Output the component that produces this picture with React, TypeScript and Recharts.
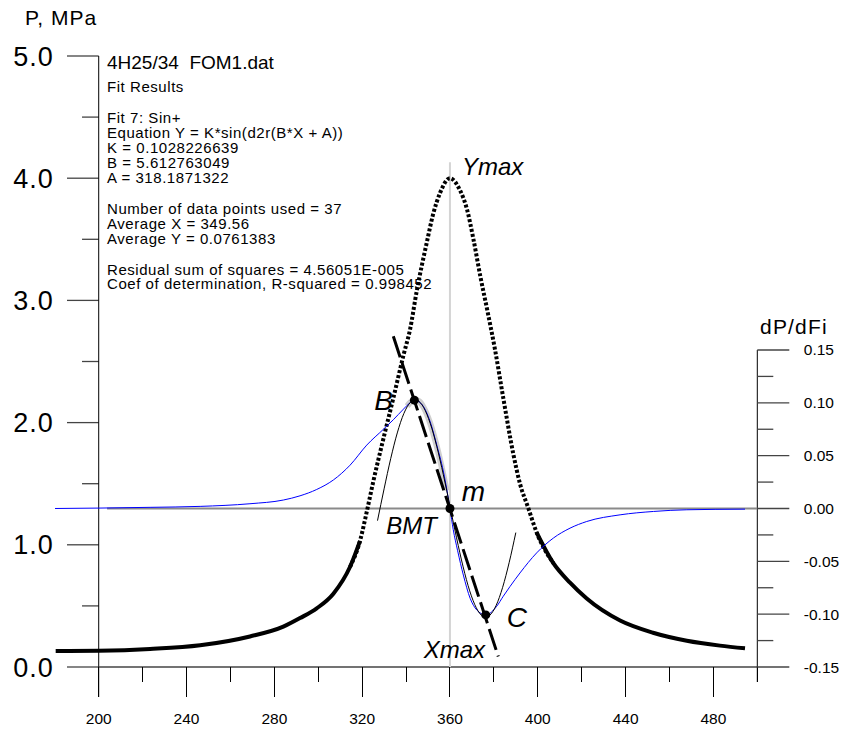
import React from 'react';
import { ComposedChart, Line, XAxis, YAxis, ReferenceLine, ReferenceDot, Customized } from 'recharts';

const FONT = "'Liberation Sans', Arial, Helvetica, sans-serif";

// ---- data ----
// Pressure P (MPa), left axis: solid tails and dotted central part
const pTailLeft: [number, number][] = [
  [180.4, 0.13], [200, 0.133], [223.4, 0.148], [246.2, 0.178], [268.9, 0.25], [284.1, 0.33],
  [291.7, 0.4], [299.3, 0.48], [306.9, 0.6], [314.5, 0.82], [319, 1.03],
];
const pPeak: [number, number][] = [
  [314.5, 0.82], [319, 1.03], [322.1, 1.27], [325.1, 1.52], [329.7, 1.87], [334.2, 2.2],
  [338.8, 2.55], [341.8, 2.76], [344.9, 3.08], [349.4, 3.47], [352.4, 3.71], [355.5, 3.88],
  [360, 4.0], [364.6, 3.9], [367.7, 3.75], [370.7, 3.5], [373.8, 3.2], [377, 2.92],
  [380.5, 2.6], [384.3, 2.2], [388.9, 1.74], [391.9, 1.5], [395.7, 1.3], [399.5, 1.1], [407.1, 0.85],
];
const pTailRight: [number, number][] = [
  [399.5, 1.1], [407.1, 0.85], [414.7, 0.69], [422.3, 0.56], [437.5, 0.38], [452.5, 0.28],
  [467.9, 0.215], [483, 0.175], [494.4, 0.153],
];
// dP/dFi, right axis
const dpdfi: [number, number][] = [
  [180.1, 0], [200.6, 0.0004], [223.4, 0.0011], [246.2, 0.002], [268.9, 0.0045], [284.1, 0.008],
  [291.7, 0.012], [299.3, 0.018], [306.9, 0.027], [314.5, 0.041], [322.1, 0.06],
  [329.7, 0.075], [334.2, 0.084], [338.8, 0.094], [341.5, 0.0995], [343.8, 0.1025], [347, 0.099],
  [350.5, 0.085], [354, 0.06], [357.5, 0.03], [360, 0], [361.5, -0.02], [363.5, -0.04],
  [366.1, -0.063], [369.2, -0.085], [372.2, -0.096], [376.3, -0.1007], [381.3, -0.0925],
  [384.3, -0.083], [387.3, -0.074], [391.9, -0.061], [399.5, -0.042], [407.1, -0.028],
  [414.7, -0.0186], [422.3, -0.0123], [437.5, -0.006], [452.7, -0.0028], [467.9, -0.0012], [494.4, -0.0006],
];
// Sin+ fit curve (thin black)
const fitCurve: [number, number][] = [
  [327, -0.0115], [330, 0.0186], [333, 0.0471], [336, 0.0715], [339, 0.0899], [342, 0.1005],
  [344.2, 0.1028], [345, 0.1025], [348, 0.0957], [351, 0.0807], [354, 0.0588], [357, 0.0319],
  [360, 0.0022], [363, -0.0277], [366, -0.0552], [369, -0.078], [372, -0.094], [375, -0.1021],
  [376.25, -0.1028], [378, -0.1013], [381, -0.0919], [384, -0.0746], [387, -0.0509], [390, -0.0228],
];
// data points used for the fit (grey band)
const fitPoints: [number, number][] = [
  [340.5, 0.097], [342, 0.1005], [344.2, 0.1028], [346, 0.1015], [348, 0.0957], [351, 0.0807],
  [354, 0.0588], [357, 0.0319], [358.5, 0.017],
];
// tangent line through B, m, C
const tangent: [number, number][] = [[334.2, 0.163], [382.0, -0.14]];
const keyPoints = [
  { name: 'B', x: 343.8, y: 0.1025 },
  { name: 'm', x: 360, y: 0 },
  { name: 'C', x: 376.3, y: -0.1007 },
];
const yMaxPoint = { x: 360, y: 4.0 };

const xTicks = [200, 220, 240, 260, 280, 300, 320, 340, 360, 380, 400, 420, 440, 460, 480, 500];
const xLabelTicks = [200, 240, 280, 320, 360, 400, 440, 480];
const pTicks = [0, 0.5, 1, 1.5, 2, 2.5, 3, 3.5, 4, 4.5, 5];
const dTicks = [-0.15, -0.125, -0.1, -0.075, -0.05, -0.025, 0, 0.025, 0.05, 0.075, 0.1, 0.125, 0.15];

const infoLines = [
  '4H25/34  FOM1.dat',
  'Fit Results',
  'Fit 7: Sin+',
  'Equation Y = K*sin(d2r(B*X + A))',
  'K = 0.1028226639',
  'B = 5.612763049',
  'A = 318.1871322',
  'Number of data points used = 37',
  'Average X = 349.56',
  'Average Y = 0.0761383',
  'Residual sum of squares = 4.56051E-005',
  'Coef of determination, R-squared = 0.998452',
];
const infoBaselines = [69, 92, 123, 137.5, 152.5, 167.5, 182.5, 213.5, 228.5, 243.5, 275, 289];

const toPts = (a: [number, number][]) => a.map(([x, y]) => ({ x, y }));
const isWhole = (v: number) => Math.abs(v - Math.round(v)) < 1e-6;

const XTick = (p: any) => {
  const v = p.payload.value;
  const major = xLabelTicks.includes(v);
  const x = Math.floor(p.x) + 0.5;
  const y0 = p.y;
  return (
    <g>
      <line x1={x} x2={x} y1={y0} y2={y0 + (major ? 30 : 15)} stroke="#000" strokeWidth={1} />
      {major && (
        <text x={p.x} y={y0 + 57} textAnchor="middle" fontSize={15.5} fontFamily={FONT} fill="#000">
          {v}
        </text>
      )}
    </g>
  );
};

const LeftTick = (p: any) => {
  const v = p.payload.value;
  if (!isWhole(v)) return <g />;
  return (
    <text x={p.x - 1} y={p.y + 9.5} textAnchor="end" fontSize={27} letterSpacing={1} fontFamily={FONT} fill="#000">
      {v.toFixed(1)}
    </text>
  );
};

const RightTick = (p: any) => {
  const v = p.payload.value;
  const major = isWhole(v * 20);
  const x0 = p.x;
  return (
    <g>
      <line x1={x0} x2={x0 + (major ? 32 : 16)} y1={p.y} y2={p.y} stroke="#444" strokeWidth={1.3} />
      {major && (
        <text x={x0 + 46.5} y={p.y + 5.5} textAnchor="start" fontSize={15.5} fontFamily={FONT} fill="#000">
          {v.toFixed(2)}
        </text>
      )}
    </g>
  );
};

const mkLabel = (text: string, dx: number, dy: number, size: number, anchor: string = 'start') =>
  (props: any) => {
    const vb = props.viewBox || {};
    const cx = (vb.x ?? 0) + (vb.width ?? 0) / 2;
    const cy = (vb.y ?? 0) + (vb.height ?? 0) / 2;
    return (
      <text x={cx + dx} y={cy + dy} textAnchor={anchor as any} fontSize={size} fontStyle="italic" fontFamily={FONT} fill="#000">
        {text}
      </text>
    );
  };

const InfoBlock = () => (
  <g fontFamily={FONT} fill="#000">
    <text x={25} y={25} fontSize={21} letterSpacing={1}>P, MPa</text>
    <text x={760} y={333.5} fontSize={21} letterSpacing={1.2}>dP/dFi</text>
    {infoLines.map((l, i) => (
      <text key={i} x={107} y={infoBaselines[i]} fontSize={i === 0 ? 19 : 15} letterSpacing={i === 0 ? 0 : 0.55}
        style={{ whiteSpace: 'pre' }}>
        {l}
      </text>
    ))}
  </g>
);

const labelOffsets: Record<string, [number, number, number, string]> = {
  B: [-21.4, 9.6, 28, 'end'],
  m: [11.7, -7, 28, 'start'],
  C: [21, 11.6, 28, 'start'],
};

export default function App() {
  return (
    <div style={{ position: 'fixed', left: 0, top: 0, width: 842, height: 729, background: '#fff' }}>
      <ComposedChart width={842} height={729} margin={{ top: 56, right: 83.7, bottom: 61, left: 53.8 }}>
        <XAxis dataKey="x" type="number" domain={[180, 500]} ticks={xTicks} interval={0} tick={XTick}
          axisLine={false} tickLine={false} tickSize={0} tickMargin={0} height={1} />
        <YAxis yAxisId="left" type="number" domain={[0, 5]} ticks={pTicks} interval={0} tick={LeftTick}
          axisLine={false} tickLine={false} tickSize={0} tickMargin={0} width={1} />
        <YAxis yAxisId="right" orientation="right" type="number" domain={[-0.15, 0.42823]} ticks={dTicks} interval={0}
          tick={RightTick} axisLine={false} tickLine={false} tickSize={0} tickMargin={0} width={1} />

        {/* left axis tick marks (major 1.0, minor 0.5) */}
        {pTicks.map((v) => (
          <ReferenceLine key={'pt' + v} yAxisId="left" ifOverflow="visible" stroke="#444" strokeWidth={1.3}
            segment={[{ x: isWhole(v) ? 185.56 : 192.4, y: v }, { x: 200, y: v }]} />
        ))}
        {/* axis lines */}
        <ReferenceLine yAxisId="left" segment={[{ x: 200, y: 5 }, { x: 200, y: -0.2455 }]} stroke="#000" strokeWidth={1} ifOverflow="visible" />
        <ReferenceLine yAxisId="left" segment={[{ x: 200, y: 0 }, { x: 500, y: 0 }]} stroke="#444" strokeWidth={1.3} ifOverflow="visible" />
        <ReferenceLine yAxisId="right" segment={[{ x: 500, y: 0.15 }, { x: 500, y: -0.1642 }]} stroke="#000" strokeWidth={1} ifOverflow="visible" />
        {/* guides */}
        <ReferenceLine yAxisId="left" segment={[{ x: 360, y: 0 }, { x: 360, y: 4.13 }]} stroke="#d4d4d4" strokeWidth={2} ifOverflow="visible" />
        <ReferenceLine yAxisId="right" segment={[{ x: 203.8, y: 0 }, { x: 500, y: 0 }]} stroke="#8a8a8a" strokeWidth={2} ifOverflow="visible" />

        <Line yAxisId="right" data={toPts(fitPoints)} dataKey="y" type="monotone" stroke="#cfcfcf" strokeWidth={6} dot={false} isAnimationActive={false} />
        <Line yAxisId="left" data={toPts(pTailLeft)} dataKey="y" type="monotone" stroke="#000" strokeWidth={4} dot={false} isAnimationActive={false} />
        <Line yAxisId="left" data={toPts(pTailRight)} dataKey="y" type="monotone" stroke="#000" strokeWidth={4} dot={false} isAnimationActive={false} />
        <Line yAxisId="left" data={toPts(pPeak)} dataKey="y" type="monotone" stroke="#000" strokeWidth={4} strokeDasharray="3 2" dot={false} isAnimationActive={false} />
        <Line yAxisId="right" data={toPts(dpdfi)} dataKey="y" type="monotone" stroke="#0000ff" strokeWidth={1} dot={false} isAnimationActive={false} />
        <Line yAxisId="right" data={toPts(fitCurve)} dataKey="y" type="monotone" stroke="#000" strokeWidth={1} dot={false} isAnimationActive={false} />
        <Line yAxisId="right" data={toPts(tangent)} dataKey="y" type="linear" stroke="#000" strokeWidth={3} strokeDasharray="22 6" dot={false} isAnimationActive={false} />

        {keyPoints.map((k) => {
          const [dx, dy, size, anchor] = labelOffsets[k.name];
          return (
            <ReferenceDot key={k.name} yAxisId="right" x={k.x} y={k.y} r={4.5} fill="#000" stroke="none"
              ifOverflow="visible" label={mkLabel(k.name, dx, dy, size, anchor)} />
          );
        })}
        <ReferenceDot yAxisId="right" x={keyPoints[1].x} y={keyPoints[1].y} r={0} fill="none" stroke="none"
          ifOverflow="visible" label={mkLabel('BMT', -13, 26, 24, 'end')} />
        <ReferenceDot yAxisId="right" x={keyPoints[2].x} y={keyPoints[2].y} r={0} fill="none" stroke="none"
          ifOverflow="visible" label={mkLabel('Xmax', -0.7, 43, 24, 'end')} />
        <ReferenceDot yAxisId="left" x={yMaxPoint.x} y={yMaxPoint.y} r={0} fill="none" stroke="none"
          ifOverflow="visible" label={mkLabel('Ymax', 12, -3, 24, 'start')} />

        <Customized component={InfoBlock} />
      </ComposedChart>
    </div>
  );
}
